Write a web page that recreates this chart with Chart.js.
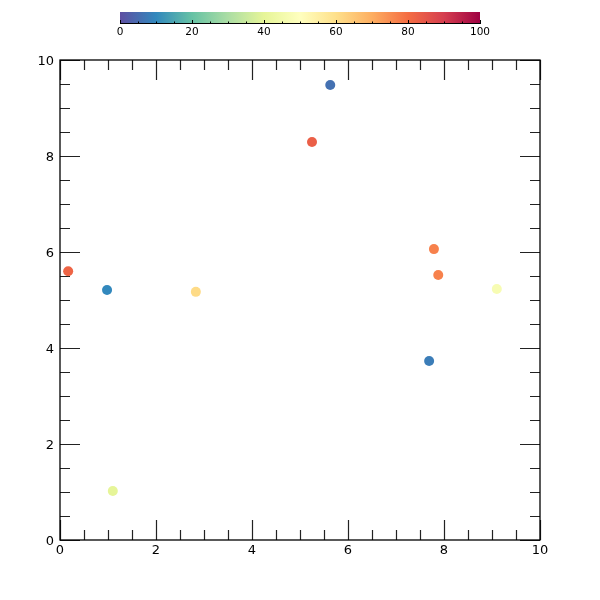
<!DOCTYPE html>
<html>
<head>
<meta charset="utf-8">
<script src="https://cdn.jsdelivr.net/npm/chart.js@4/dist/chart.umd.min.js"></script>
<style>
  body { margin: 0; background: #fff; }
  canvas { display: block; }
</style>
</head>
<body>
<canvas id="chart" width="600" height="600"></canvas>
<script>
// data
const xValues = [5.63, 5.25, 0.17, 0.98, 2.83, 1.10, 7.79, 7.88, 9.10, 7.69];
const yValues = [9.48, 8.29, 5.60, 5.21, 5.17, 1.02, 6.06, 5.52, 5.23, 3.73];
const colorValues = [6, 83, 82, 10, 61, 40, 77, 77, 47, 8];
const axisTicks = [0, 2, 4, 6, 8, 10];
const barTicks = [0, 20, 40, 60, 80, 100];

// Spectral (reversed) colour stops
const spectral = ['#5e4fa2', '#3288bd', '#66c2a5', '#abdda4', '#e6f598', '#ffffbf',
  '#fee08b', '#fdae61', '#f46d43', '#d53e4f', '#9e0142'];

function hexToRgb(h) {
  return [parseInt(h.slice(1, 3), 16), parseInt(h.slice(3, 5), 16), parseInt(h.slice(5, 7), 16)];
}

function colormap(v) {
  const t = Math.max(0, Math.min(1, v / 100)) * (spectral.length - 1);
  const i = Math.min(Math.floor(t), spectral.length - 2);
  const f = t - i;
  const a = hexToRgb(spectral[i]), b = hexToRgb(spectral[i + 1]);
  const c = a.map((x, k) => Math.round(x + (b[k] - x) * f));
  return `rgb(${c[0]},${c[1]},${c[2]})`;
}

const points = xValues.map((x, i) => ({ x: x, y: yValues[i] }));

// inward ticks on all four sides plus the frame
const frameTicks = {
  id: 'frameTicks',
  beforeDatasetsDraw(chart) {
    const { ctx, chartArea: a, scales: { x, y } } = chart;
    ctx.save();
    ctx.strokeStyle = '#222';
    ctx.lineWidth = 1.2;
    ctx.beginPath();
    for (let v = 0; v <= 10; v += 0.5) {
      const len = v % 2 === 0 ? 20 : 10;
      const px = Math.round(x.getPixelForValue(v)) + 0.5;
      const py = Math.round(y.getPixelForValue(v)) + 0.5;
      ctx.moveTo(px, a.bottom); ctx.lineTo(px, a.bottom - len);
      ctx.moveTo(px, a.top); ctx.lineTo(px, a.top + len);
      ctx.moveTo(a.left, py); ctx.lineTo(a.left + len, py);
      ctx.moveTo(a.right, py); ctx.lineTo(a.right - len, py);
    }
    ctx.stroke();
    ctx.strokeStyle = '#000';
    ctx.lineWidth = 1.3;
    ctx.strokeRect(a.left, a.top, a.right - a.left, a.bottom - a.top);
    ctx.restore();
  }
};

// horizontal colour bar above the plot
const colorBar = {
  id: 'colorBar',
  afterDraw(chart) {
    const ctx = chart.ctx;
    const left = 120, right = 480, top = 12, bottom = 24;
    ctx.save();
    const g = ctx.createLinearGradient(left, 0, right, 0);
    spectral.forEach((c, i) => g.addColorStop(i / (spectral.length - 1), c));
    ctx.fillStyle = g;
    ctx.fillRect(left, top, right - left, bottom - top);
    ctx.strokeStyle = '#000';
    ctx.lineWidth = 1;
    ctx.beginPath();
    ctx.moveTo(left, bottom - 0.5); ctx.lineTo(right, bottom - 0.5);
    for (let v = 0; v <= 100; v += 5) {
      const px = Math.round(left + (right - left) * v / 100) + 0.5;
      ctx.moveTo(px, bottom); ctx.lineTo(px, bottom - (v % 20 === 0 ? 4 : 2.5));
    }
    ctx.stroke();
    ctx.fillStyle = '#000';
    ctx.font = '10.5px "DejaVu Sans"';
    ctx.textAlign = 'center';
    ctx.textBaseline = 'middle';
    barTicks.forEach(v => ctx.fillText(String(v), left + (right - left) * v / 100, 32));
    ctx.restore();
  }
};

new Chart(document.getElementById('chart'), {
  type: 'scatter',
  data: {
    datasets: [{
      data: points,
      pointRadius: 5,
      pointHoverRadius: 5,
      pointBorderWidth: 0,
      pointBackgroundColor: colorValues.map(colormap)
    }]
  },
  options: {
    responsive: false,
    animation: false,
    events: [],
    layout: { padding: { top: 60, right: 60, left: 0, bottom: 0 } },
    plugins: { legend: { display: false }, tooltip: { enabled: false } },
    scales: {
      x: {
        type: 'linear',
        min: 0, max: 10,
        afterFit: s => { s.height = 60; },
        afterBuildTicks: s => { s.ticks = axisTicks.map(v => ({ value: v })); },
        grid: { display: false, drawTicks: false },
        border: { display: false },
        ticks: { color: '#000', padding: 3, font: { family: 'DejaVu Sans', size: 13 } }
      },
      y: {
        type: 'linear',
        min: 0, max: 10,
        afterFit: s => { s.width = 60; },
        afterBuildTicks: s => { s.ticks = axisTicks.map(v => ({ value: v })); },
        grid: { display: false, drawTicks: false },
        border: { display: false },
        ticks: { color: '#000', padding: 6, labelOffset: 2, font: { family: 'DejaVu Sans', size: 13 } }
      }
    }
  },
  plugins: [frameTicks, colorBar]
});
</script>
</body>
</html>
